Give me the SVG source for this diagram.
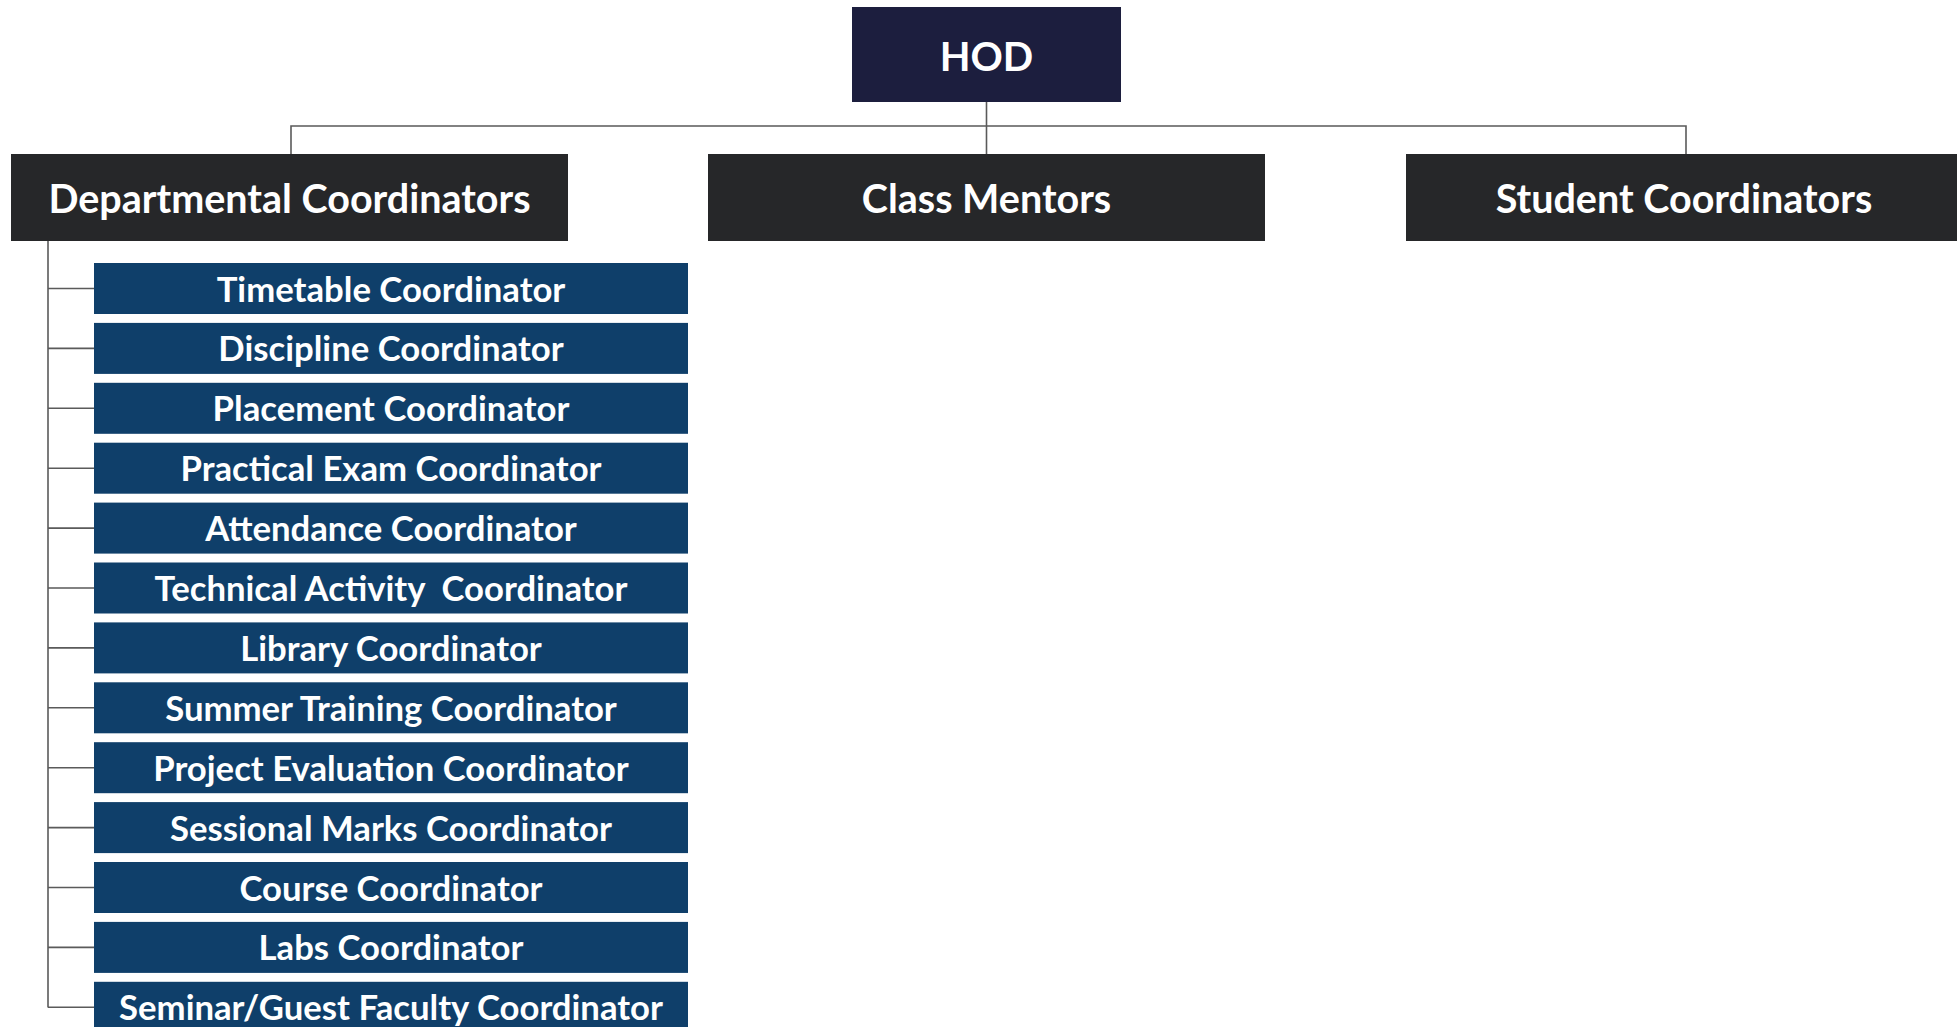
<svg xmlns="http://www.w3.org/2000/svg" width="1957" height="1027" viewBox="0 0 1957 1027">
<style>
.bg{fill:#ffffff}
.hod{fill:#1c1e3e}
.dark{fill:#262729}
.blue{fill:#0f3f6a}
.t{font-family:Lato,"Liberation Sans",sans-serif;font-weight:bold;fill:#ffffff;text-anchor:middle}
.th{font-size:40px}
.tm{font-size:39.5px}
.ts{font-size:34.7px}
.ln{stroke:#5a5a5a;stroke-width:1.6;fill:none}
</style>
<rect class="bg" x="0" y="0" width="1957" height="1027"/>
<g id="connectors">
<path class="ln" d="M986.5 102 V154 M291 154 V126 H1686 V154"/>
<path class="ln" d="M48 241 V1007.5"/>
<path class="ln" d="M48 288.5 H94 M48 348.4 H94 M48 408.3 H94 M48 468.2 H94 M48 528.1 H94 M48 588 H94 M48 647.9 H94 M48 707.8 H94 M48 767.7 H94 M48 827.6 H94 M48 887.5 H94 M48 947.4 H94 M48 1007.3 H94"/>
</g>
<g id="hod"><rect class="hod" x="852" y="7" width="269" height="95"/><text class="t th" x="986.5" y="71">HOD</text></g>
<g id="departmental"><rect class="dark" x="11" y="154" width="557" height="87"/><text class="t tm" x="289.5" y="212.5">Departmental Coordinators</text></g>
<g id="class-mentors"><rect class="dark" x="708" y="154" width="557" height="87"/><text class="t tm" x="986.5" y="212.5">Class Mentors</text></g>
<g id="student"><rect class="dark" x="1406" y="154" width="551" height="87"/><text class="t tm" x="1684" y="212.5">Student Coordinators</text></g>
<g id="n1"><rect class="blue" x="94" y="263" width="594" height="51"/><text class="t ts" x="391" y="301.5">Timetable Coordinator</text></g>
<g id="n2"><rect class="blue" x="94" y="322.9" width="594" height="51"/><text class="t ts" x="391" y="361.4">Discipline Coordinator</text></g>
<g id="n3"><rect class="blue" x="94" y="382.8" width="594" height="51"/><text class="t ts" x="391" y="421.3">Placement Coordinator</text></g>
<g id="n4"><rect class="blue" x="94" y="442.7" width="594" height="51"/><text class="t ts" x="391" y="481.2">Practical Exam Coordinator</text></g>
<g id="n5"><rect class="blue" x="94" y="502.6" width="594" height="51"/><text class="t ts" x="391" y="541.1">Attendance Coordinator</text></g>
<g id="n6"><rect class="blue" x="94" y="562.5" width="594" height="51"/><text class="t ts" x="391" y="601" xml:space="preserve">Technical Activity  Coordinator</text></g>
<g id="n7"><rect class="blue" x="94" y="622.4" width="594" height="51"/><text class="t ts" x="391" y="660.9">Library Coordinator</text></g>
<g id="n8"><rect class="blue" x="94" y="682.3" width="594" height="51"/><text class="t ts" x="391" y="720.8">Summer Training Coordinator</text></g>
<g id="n9"><rect class="blue" x="94" y="742.2" width="594" height="51"/><text class="t ts" x="391" y="780.7">Project Evaluation Coordinator</text></g>
<g id="n10"><rect class="blue" x="94" y="802.1" width="594" height="51"/><text class="t ts" x="391" y="840.6">Sessional Marks Coordinator</text></g>
<g id="n11"><rect class="blue" x="94" y="862" width="594" height="51"/><text class="t ts" x="391" y="900.5">Course Coordinator</text></g>
<g id="n12"><rect class="blue" x="94" y="921.9" width="594" height="51"/><text class="t ts" x="391" y="960.4">Labs Coordinator</text></g>
<g id="n13"><rect class="blue" x="94" y="981.8" width="594" height="51"/><text class="t ts" x="391" y="1020.3">Seminar/Guest Faculty Coordinator</text></g>
</svg>
